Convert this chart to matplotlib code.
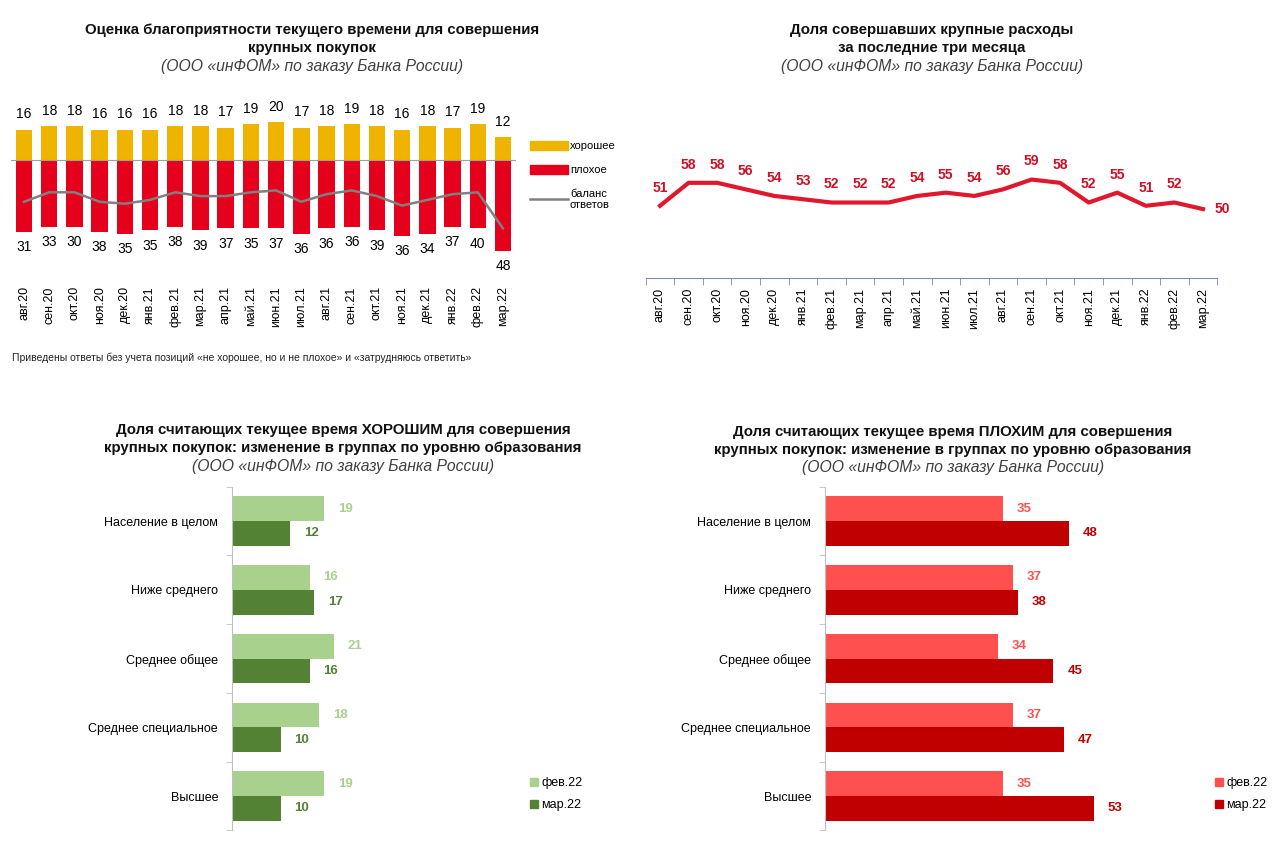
import numpy as np
import matplotlib
matplotlib.use("Agg")
import matplotlib.pyplot as plt
from matplotlib.patches import Patch
from matplotlib.lines import Line2D

plt.rcParams['font.family'] = ['Liberation Sans', 'DejaVu Sans']

# ── Data ──────────────────────────────────────────────────────────────────────
months = ['авг.20', 'сен.20', 'окт.20', 'ноя.20', 'дек.20', 'янв.21', 'фев.21',
          'мар.21', 'апр.21', 'май.21', 'июн.21', 'июл.21', 'авг.21', 'сен.21',
          'окт.21', 'ноя.21', 'дек.21', 'янв.22', 'фев.22', 'мар.22']

good = [16, 18, 18, 16, 16, 16, 18, 18, 17, 19, 20, 17, 18, 19, 18, 16, 18, 17, 19, 12]
# bar lengths as drawn in the source chart
bad = [38, 35, 35, 38, 39, 37, 35, 37, 36, 36, 36, 39, 36, 35, 37, 40, 39, 35, 36, 48]
# labels as printed under the bars
bad_labels = [31, 33, 30, 38, 35, 35, 38, 39, 37, 35, 37, 36, 36, 36, 39, 36, 34, 37, 40, 48]

big_spend = [51, 58, 58, 56, 54, 53, 52, 52, 52, 54, 55, 54, 56, 59, 58, 52, 55, 51, 52, 50]

groups = ['Население в целом', 'Ниже среднего', 'Среднее общее',
          'Среднее специальное', 'Высшее']
good_feb = [19, 16, 21, 18, 19]
good_mar = [12, 17, 16, 10, 10]
bad_feb = [35, 37, 34, 37, 35]
bad_mar = [48, 38, 45, 47, 53]

# ── Style ─────────────────────────────────────────────────────────────────────
YELLOW = '#eeb400'
RED = '#e5001c'
GRAY = '#808080'
LINE_RED = '#e0182d'
LG, DG = '#a9d18e', '#548235'
LR, DR = '#ff5050', '#c00000'

W, H = 1280, 850
fig = plt.figure(figsize=(W / 100, H / 100), dpi=100)
fig.patch.set_facecolor('white')


def box(x0, y0, x1, y1):
    """pixel box (top-left origin) -> figure rect"""
    return [x0 / W, 1 - y1 / H, (x1 - x0) / W, (y1 - y0) / H]


def title(xc, y, lines, sub):
    for i, t in enumerate(lines):
        fig.text(xc / W, 1 - (y + 18 * i) / H, t, ha='center', va='center',
                 fontsize=10.8, fontweight='bold', color='#111')
    fig.text(xc / W, 1 - (y + 18 * len(lines)) / H, sub, ha='center', va='center',
             fontsize=11.3, style='italic', color='#404040')


SUB = '(ООО «инФОМ» по заказу Банка России)'
x = np.arange(len(months))

# ── Top-left: good / bad bars + balance ──────────────────────────────────────
title(312, 30, ['Оценка благоприятности текущего времени для совершения',
                'крупных покупок'], SUB)
ax1 = fig.add_axes(box(11.4, 100, 515.6, 282))
ax1.bar(x, good, width=0.65, color=YELLOW)
ax1.bar(x, [-v for v in bad], width=0.65, color=RED)
balance = [g - b for g, b in zip(good, bad)]
ax1.plot(x, balance, color=GRAY, lw=1.8)
ax1.axhline(0, color='#a0a0a0', lw=0.8)
for i in x:
    ax1.annotate(str(good[i]), (i, good[i]), xytext=(0, 11), textcoords='offset points',
                 ha='center', va='center', fontsize=10)
    ax1.annotate(str(bad_labels[i]), (i, -bad[i]), xytext=(0, -11), textcoords='offset points',
                 ha='center', va='center', fontsize=10)
ax1.set_xlim(-0.5, len(months) - 0.5)
ax1.set_ylim(-(282 - 160) / 1.9, (160 - 100) / 1.9)
ax1.set_yticks([])
ax1.set_xticks(x)
ax1.set_xticklabels(months, rotation=90, fontsize=9)
ax1.tick_params(axis='x', length=0, pad=3)
for s in ax1.spines.values():
    s.set_visible(False)

handles = [Patch(color=YELLOW), Patch(color=RED), Line2D([], [], color=GRAY, lw=1.8)]
leg = fig.legend(handles, ['хорошее', 'плохое', 'баланс\nответов'], loc='upper left',
                 bbox_to_anchor=(520 / W, 1 - 131 / H), frameon=False, fontsize=8,
                 handlelength=3.4, handleheight=0.9, handletextpad=0.2, labelspacing=1.2)
for t in leg.get_texts():
    t.set_multialignment('left')

fig.text(12 / W, 1 - 358 / H,
         'Приведены ответы без учета позиций «не хорошее, но и не плохое» и «затрудняюсь ответить»',
         ha='left', va='center', fontsize=7.5, color='#222')

# ── Top-right: share with big spending ───────────────────────────────────────
title(932, 30, ['Доля совершавших крупные расходы', 'за последние три месяца'], SUB)
ax2 = fig.add_axes(box(645.7, 150, 1217.3, 278))
ax2.plot(x, big_spend, color=LINE_RED, lw=3)
for i in x:
    if i == len(x) - 1:
        ax2.annotate(str(big_spend[i]), (i, big_spend[i]), xytext=(8, 0),
                     textcoords='offset points', ha='left', va='center',
                     fontsize=10, fontweight='bold', color='#cc1025')
    else:
        ax2.annotate(str(big_spend[i]), (i, big_spend[i]), xytext=(0, 13),
                     textcoords='offset points', ha='center', va='center',
                     fontsize=10, fontweight='bold', color='#cc1025')
ax2.set_xlim(-0.5, len(months) - 0.5)
ax2.set_ylim(29, 68)
ax2.set_yticks([])
ax2.set_xticks(x)
ax2.set_xticklabels(months, rotation=90, fontsize=9)
ax2.set_xticks(np.arange(-0.5, len(months), 1), minor=True)
ax2.tick_params(axis='x', which='major', length=0, pad=7)
ax2.tick_params(axis='x', which='minor', length=5, color='#7f8fa9')
for k in ['top', 'right', 'left']:
    ax2.spines[k].set_visible(False)
ax2.spines['bottom'].set_color('#7f8fa9')


# ── Bottom: education groups ──────────────────────────────────────────────────
def group_bars(rect, feb, mar, c_feb, c_mar, xmax):
    ax = fig.add_axes(rect)
    y = np.arange(len(groups))
    h = 0.36
    ax.barh(y - h / 2, feb, height=h, color=c_feb)
    ax.barh(y + h / 2, mar, height=h, color=c_mar)
    for i in y:
        ax.annotate(str(feb[i]), (feb[i], i - h / 2), xytext=(10, 0), textcoords='offset points',
                    ha='left', va='center', fontsize=9.5, fontweight='bold', color=c_feb)
        ax.annotate(str(mar[i]), (mar[i], i + h / 2), xytext=(10, 0), textcoords='offset points',
                    ha='left', va='center', fontsize=9.5, fontweight='bold', color=c_mar)
    ax.set_xlim(0, xmax)
    ax.set_ylim(len(groups) - 0.5, -0.5)
    ax.set_xticks([])
    ax.set_yticks(y)
    ax.set_yticklabels(groups, fontsize=9)
    ax.set_yticks(np.arange(-0.5, len(groups), 1), minor=True)
    ax.tick_params(axis='y', which='major', length=0, pad=10)
    ax.tick_params(axis='y', which='minor', length=4, color='#bfbfbf')
    for k in ['top', 'right', 'bottom']:
        ax.spines[k].set_visible(False)
    ax.spines['left'].set_color('#bfbfbf')
    return ax


title(343, 430, ['Доля считающих текущее время ХОРОШИМ для совершения',
                 'крупных покупок: изменение в группах по уровню образования'], SUB)
ax3 = group_bars(box(232, 486.7, 620, 830.4), good_feb, good_mar, LG, DG, 80)
fig.legend([Patch(color=LG), Patch(color=DG)], ['фев.22', 'мар.22'], loc='upper left',
           bbox_to_anchor=(519 / W, 1 - 766 / H), frameon=False, fontsize=9,
           handlelength=0.6, handleheight=0.6, handletextpad=0.3, labelspacing=0.8)

title(953, 432, ['Доля считающих текущее время ПЛОХИМ для совершения',
                 'крупных покупок: изменение в группах по уровню образования'], SUB)
ax4 = group_bars(box(825, 486.7, 1231, 830.4), bad_feb, bad_mar, LR, DR, 80)
fig.legend([Patch(color=LR), Patch(color=DR)], ['фев.22', 'мар.22'], loc='upper left',
           bbox_to_anchor=(1204 / W, 1 - 766 / H), frameon=False, fontsize=9,
           handlelength=0.6, handleheight=0.6, handletextpad=0.3, labelspacing=0.8)

fig.savefig('out.png', dpi=100, facecolor='white')
